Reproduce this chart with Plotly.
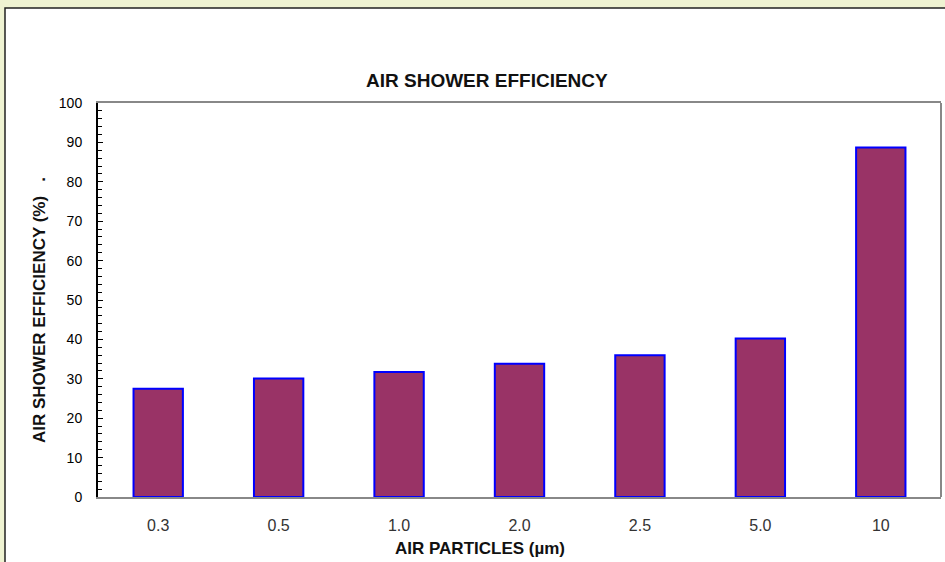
import plotly.graph_objects as go

categories = ["0.3", "0.5", "1.0", "2.0", "2.5", "5.0", "10"]
efficiency = [27.5, 30.1, 31.7, 33.8, 36.0, 40.2, 88.7]
y_ticks = [0, 10, 20, 30, 40, 50, 60, 70, 80, 90, 100]

W, H = 945, 562
L, R, T, B = 98, 941, 103, 497

def px(x):
    return (x - L) / (R - L)

def py(y):
    return (B - y) / (B - T)

fig = go.Figure()
fig.add_trace(go.Bar(
    x=categories, y=efficiency,
    marker=dict(color="#993366", line=dict(color="#0000FF", width=2)),
    width=0.41,
))

fig.update_layout(
    width=W, height=H,
    margin=dict(l=L, r=W - R, t=T, b=H - B, pad=0),
    paper_bgcolor="#EFF3D2",
    plot_bgcolor="white",
    showlegend=False,
    font=dict(family="Liberation Sans, Arial, sans-serif", color="black"),
    xaxis=dict(
        type="category", showgrid=False, zeroline=False,
        showline=True, linecolor="#888888", linewidth=2, mirror=True,
        ticks="", tickfont=dict(size=16, color="#333333"),
        ticklabelstandoff=13,
    ),
    yaxis=dict(
        range=[0, 100], tickvals=y_ticks, showgrid=False, zeroline=False,
        showline=True, linecolor="black", linewidth=2,
        ticks="inside", ticklen=5, tickwidth=1, tickcolor="black",
        minor=dict(dtick=2, ticks="inside", ticklen=4, tickcolor="black", tickwidth=1),
        tickfont=dict(size=14, color="black"),
        ticklabelstandoff=11,
    ),
    shapes=[
        dict(type="rect", xref="paper", yref="paper",
             x0=px(5), x1=px(950), y0=py(570), y1=py(8),
             fillcolor="white", line=dict(color="#222222", width=1.5), layer="below"),
        dict(type="line", xref="paper", yref="paper",
             x0=1, x1=1, y0=0, y1=1, line=dict(color="#888888", width=2)),
    ],
    annotations=[
        dict(text="<b>AIR SHOWER EFFICIENCY</b>", xref="paper", yref="paper",
             x=px(487), y=py(80), showarrow=False, xanchor="center", yanchor="middle",
             font=dict(size=19, color="#111111")),
        dict(text="<b>AIR PARTICLES (µm)</b>", xref="paper", yref="paper",
             x=px(480), y=py(548), showarrow=False, xanchor="center", yanchor="middle",
             font=dict(size=17, color="#111111")),
        dict(text="<b>AIR SHOWER EFFICIENCY (%)   .</b>", xref="paper", yref="paper",
             x=px(39), y=py(310), showarrow=False, xanchor="center", yanchor="middle",
             textangle=-90, font=dict(size=17, color="#111111")),
    ],
)

fig.write_html("out.html", config={"displayModeBar": False},
               post_script="document.body.style.margin='0px';document.body.style.overflow='hidden';")
